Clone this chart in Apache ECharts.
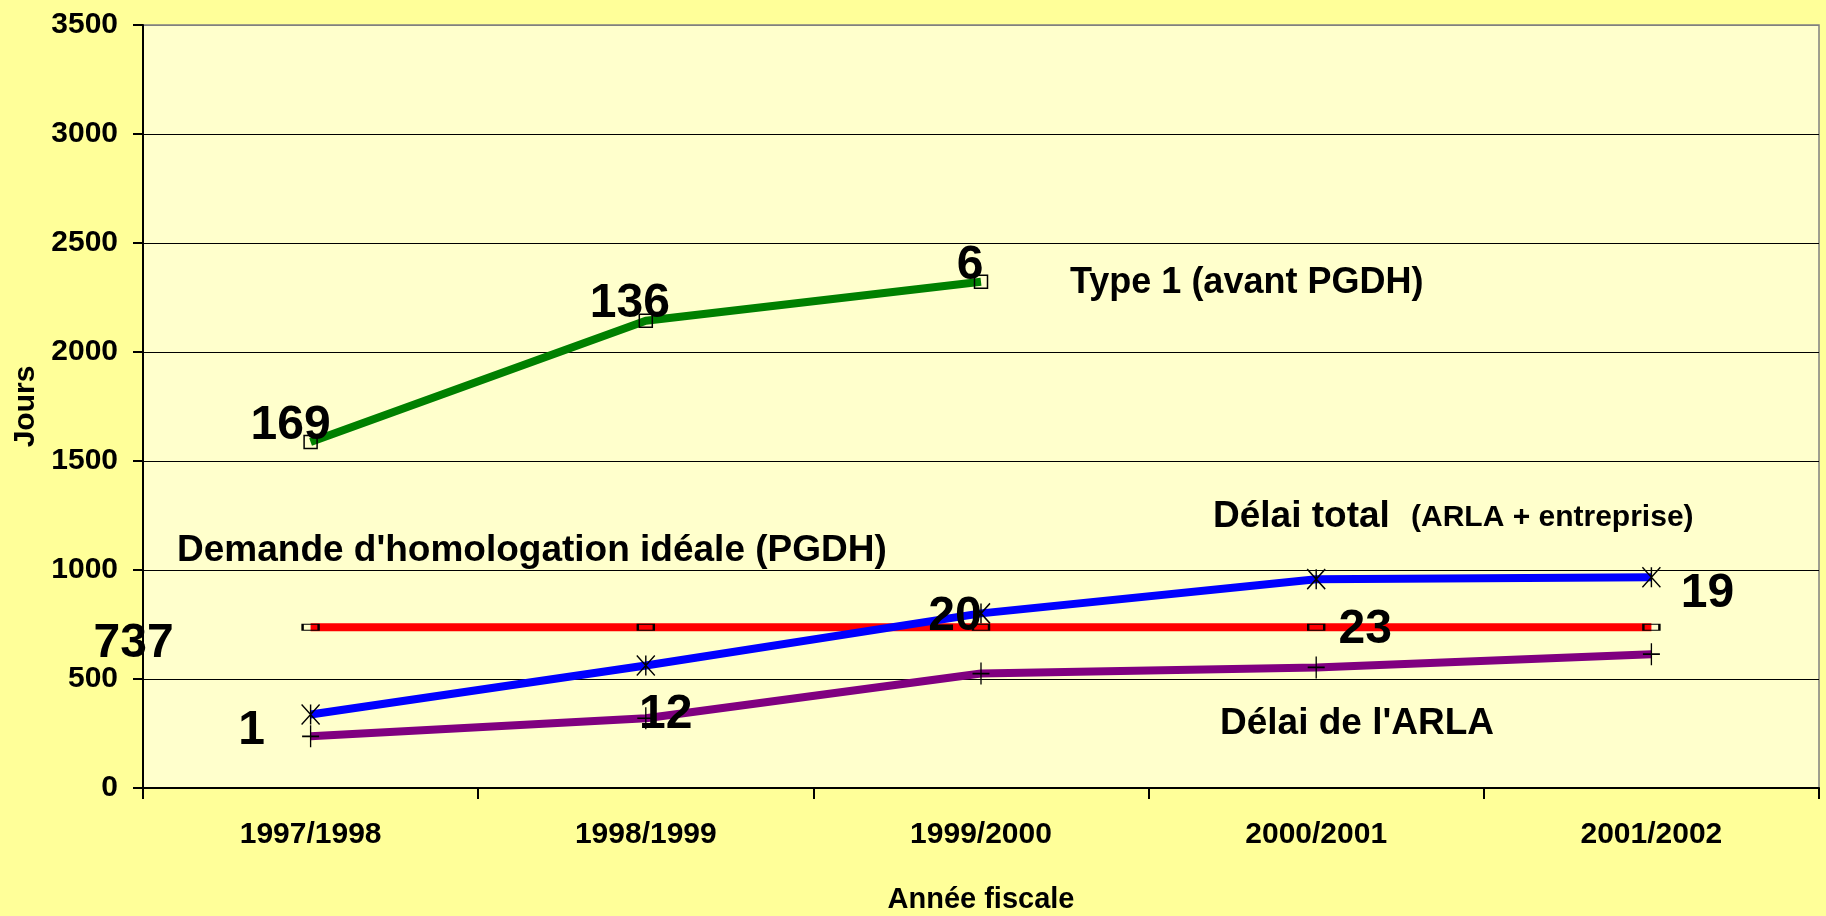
<!DOCTYPE html>
<html>
<head>
<meta charset="utf-8">
<script src="https://cdn.jsdelivr.net/npm/echarts@6/dist/echarts.min.js"></script>
<style>
  html, body { margin: 0; padding: 0; background: #FFFF99; }
  #chart { width: 1826px; height: 916px; }
</style>
</head>
<body>
<div id="chart"></div>
<script>
// ---- Data ----
const categories = ['1997/1998', '1998/1999', '1999/2000', '2000/2001', '2001/2002'];
const yTicks = [0, 500, 1000, 1500, 2000, 2500, 3000, 3500];

const type1Values = [1587, 2143, 2322, null, null];   // Type 1 (avant PGDH)
const idealValues = [737, 737, 737, 737, 737];        // Demande d'homologation idéale (PGDH)
const totalValues = [337, 562, 801, 958, 967];        // Délai total (ARLA + entreprise)
const arlaValues  = [237, 320, 525, 553, 614];        // Délai de l'ARLA

const type1Counts = ['169', '136', '6', '', ''];
const idealCounts = ['737', '', '', '23', ''];
const totalCounts = ['1', '', '20', '', '19'];
const arlaCounts  = ['', '12', '', '', ''];

// ---- Layout / style (not data) ----
const FONT = "'Liberation Sans', Arial, Helvetica, sans-serif";
const NUMFONT = "'Liberation Sans Narrow', 'Arial Narrow', 'Liberation Sans', Arial, sans-serif";
const labelOffsets = {
  type1: [[-20, -16], [-16, -17], [-11, -16], null, null],
  ideal: [[-177, 16], null, null, [49, 2], null],
  total: [[-59, 16], null, [-26, 3], null, [56, 17]],
  arla:  [null, [20, -3], null, null, null]
};

function buildData(values, counts, offsets) {
  return values.map((v, i) => {
    const item = { value: v };
    if (counts[i]) {
      item.label = {
        show: true,
        position: 'inside',
        offset: offsets[i] || [0, 0],
        formatter: counts[i],
        fontFamily: NUMFONT,
        fontWeight: 'bold',
        fontSize: 48,
        color: '#000'
      };
    }
    return item;
  });
}

const asterisk = 'path://M0,0L10,12M10,0L0,12M5,0L5,12';
const plus = 'path://M0,6L10,6M5,0L5,12';

const markerStyle = { color: 'rgba(0,0,0,0)', borderColor: '#000', borderWidth: 1.5 };

const chart = echarts.init(document.getElementById('chart'), null, { renderer: 'canvas' });

function txt(x, y, text, size) {
  return {
    type: 'text', x: x, y: y, z: 10,
    style: { text: text, font: 'bold ' + size + 'px ' + FONT, fill: '#000', align: 'left', verticalAlign: 'middle' }
  };
}

const option = {
  backgroundColor: '#FFFF99',
  animation: false,
  textStyle: { fontFamily: FONT },
  grid: {
    left: 143, right: 7, top: 25, bottom: 128,
    containLabel: false,
    outerBoundsMode: 'none',
    show: true, backgroundColor: '#FFFFCC',
    borderColor: '#808080', borderWidth: 1.5
  },
  xAxis: {
    type: 'category',
    data: categories,
    boundaryGap: true,
    name: 'Année fiscale',
    nameLocation: 'middle',
    nameGap: 97,
    nameTextStyle: { fontFamily: FONT, fontWeight: 'bold', fontSize: 29, color: '#000' },
    axisLine: { show: true, lineStyle: { color: '#000', width: 2 } },
    axisTick: { show: true, length: 11, inside: false, alignWithLabel: false, lineStyle: { color: '#000', width: 2 } },
    axisLabel: { fontFamily: FONT, fontWeight: 'bold', fontSize: 30, color: '#000', margin: 32 },
    splitLine: { show: false }
  },
  yAxis: {
    type: 'value',
    min: yTicks[0],
    max: yTicks[yTicks.length - 1],
    interval: yTicks[1] - yTicks[0],
    name: 'Jours',
    nameLocation: 'middle',
    nameRotate: 90,
    nameGap: 96,
    nameTextStyle: { fontFamily: FONT, fontWeight: 'bold', fontSize: 30, color: '#000' },
    axisLine: { show: true, lineStyle: { color: '#000', width: 2 } },
    axisTick: { show: true, length: 10, inside: false, lineStyle: { color: '#000', width: 2 } },
    axisLabel: {
      fontFamily: FONT, fontWeight: 'bold', fontSize: 30, color: '#000', margin: 25,
      formatter: function (v) { return String(v); }
    },
    splitLine: {
      show: true,
      lineStyle: { color: ['#000', '#000', '#000', '#000', '#000', '#000', '#000', '#808080'], width: 1.2 }
    }
  },
  series: [
    {
      name: 'Type 1 (avant PGDH)',
      type: 'line',
      data: buildData(type1Values, type1Counts, labelOffsets.type1),
      symbol: 'rect',
      symbolSize: 13,
      showAllSymbol: true,
      itemStyle: markerStyle,
      lineStyle: { color: '#008000', width: 8 },
      z: 5
    },
    {
      name: "Demande d'homologation idéale (PGDH)",
      type: 'line',
      data: buildData(idealValues, idealCounts, labelOffsets.ideal),
      symbol: 'rect',
      symbolSize: [16, 6],
      showAllSymbol: true,
      itemStyle: markerStyle,
      lineStyle: { color: '#FF0000', width: 8 },
      z: 3
    },
    {
      name: 'Délai total (ARLA + entreprise)',
      type: 'line',
      data: buildData(totalValues, totalCounts, labelOffsets.total),
      symbol: asterisk,
      symbolSize: [18, 20],
      showAllSymbol: true,
      itemStyle: markerStyle,
      lineStyle: { color: '#0000FF', width: 8 },
      z: 4
    },
    {
      name: "Délai de l'ARLA",
      type: 'line',
      data: buildData(arlaValues, arlaCounts, labelOffsets.arla),
      symbol: plus,
      symbolSize: [17, 22],
      showAllSymbol: true,
      itemStyle: markerStyle,
      lineStyle: { color: '#800080', width: 8 },
      z: 4
    }
  ],
  graphic: [
    txt(1070, 283, 'Type 1 (avant PGDH)', 36),
    txt(177, 551, "Demande d'homologation idéale (PGDH)", 37),
    txt(1213, 517, 'Délai total', 37),
    txt(1411, 518, '(ARLA + entreprise)', 30),
    txt(1220, 724, "Délai de l'ARLA", 37)
  ]
};

chart.setOption(option);
</script>
</body>
</html>
